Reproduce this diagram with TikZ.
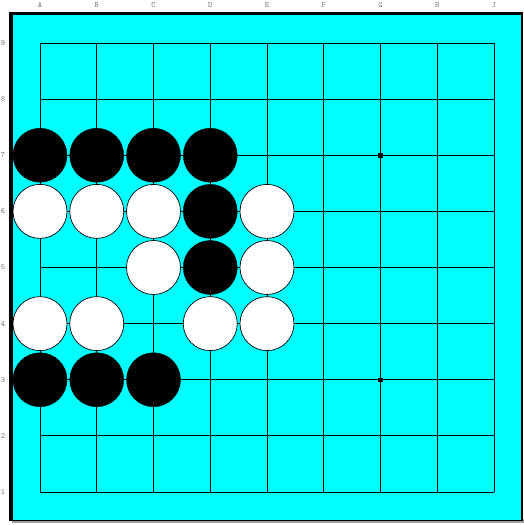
\documentclass[tikz,border=0pt]{standalone}
\usetikzlibrary{positioning}
\definecolor{goboard}{RGB}{0,255,255}
\definecolor{golabel}{RGB}{120,120,120}
\definecolor{goshadow}{RGB}{160,160,160}
\tikzset{
  goBlack/.style={circle, draw=black, fill=black, minimum size=54pt,
                  inner sep=0pt},
  goWhite/.style={circle, draw=black, line width=0.7pt, fill=white,
                  minimum size=54pt, inner sep=0pt},
  goLine/.style={draw=black, line width=0.8pt},
  goStar/.style={fill=black, minimum size=4.5pt, inner sep=0pt},
  goCoord/.style={font=\ttfamily\fontsize{8}{8}\selectfont, text=golabel,
                  inner sep=0pt}
}
\newcommand{\gox}[1]{{40+56.75*(#1)}}
\newcommand{\goy}[1]{{43+56.125*(9-(#1))}}

\begin{document}
\begin{tikzpicture}[x=1pt,y=-1pt]
  \useasboundingbox (0,0) rectangle (524,525);
  % board
  \fill[goshadow] (12,519) rectangle (524,522.5);
  \fill[goboard] (11,13) rectangle (521.5,520);
  \draw[line width=3.5pt] (11,521) -- (11,13.5) -- (522.5,13.5);
  \draw[line width=1.4pt] (521.8,13) -- (521.8,520.2) -- (11,520.2);
  % grid
  \foreach \i in {0,...,8} {
    \draw[goLine] (\gox{\i},43) -- (\gox{\i},492);
    \draw[goLine] (40,\goy{\i+1}) -- (494,\goy{\i+1});
  }
  % coordinates
  \foreach \col [count=\i from 0] in {A,B,C,D,E,F,G,H,J}
    \node[goCoord] (lbl\col) at (\gox{\i},5) {\col};
  \foreach \row in {1,...,9}
    \node[goCoord] (lbl\row) at (3,\goy{\row}) {\row};
  % star points
  \node[goStar] (g7) at (\gox{6},\goy{7}) {};
  \node[goStar] (g3) at (\gox{6},\goy{3}) {};
  % stones
  \foreach \c/\r/\s in {0/7/goBlack, 1/7/goBlack, 2/7/goBlack, 3/7/goBlack,
                        0/6/goWhite, 1/6/goWhite, 2/6/goWhite, 3/6/goBlack,
                        4/6/goWhite, 2/5/goWhite, 3/5/goBlack, 4/5/goWhite,
                        0/4/goWhite, 1/4/goWhite, 3/4/goWhite, 4/4/goWhite,
                        0/3/goBlack, 1/3/goBlack, 2/3/goBlack}
    \node[\s] (st\c\r) at (\gox{\c},\goy{\r}) {};
\end{tikzpicture}
\end{document}
